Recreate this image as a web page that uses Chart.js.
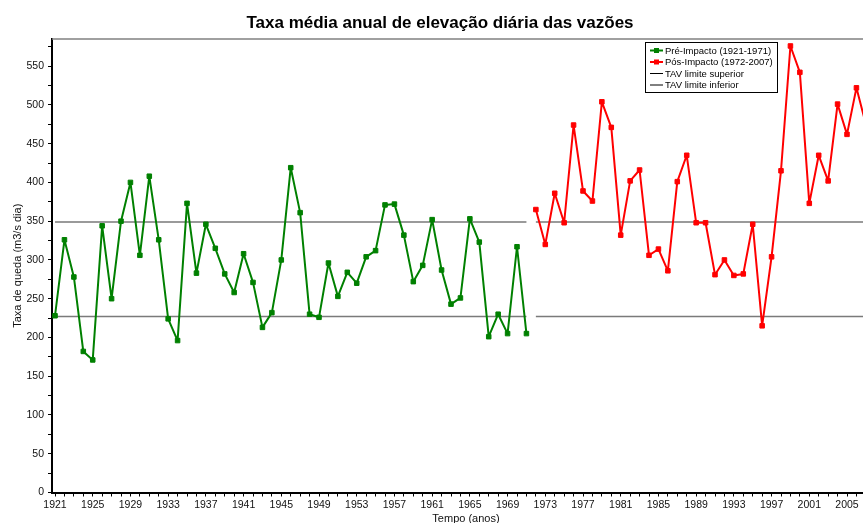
<!DOCTYPE html>
<html>
<head>
<meta charset="utf-8">
<script src="https://cdn.jsdelivr.net/npm/chart.js@4.4.1/dist/chart.umd.min.js"></script>
<style>
  html, body { margin: 0; padding: 0; background: #fff; }
  #wrap { width: 863px; height: 523px; overflow: hidden; position: relative; }
  #myChart { position: absolute; left: 0; top: 0; }
</style>
</head>
<body>
<div id="wrap">
  <canvas id="myChart" width="892" height="526"></canvas>
</div>
<script>
"use strict";

// anos e taxas
var preYears = [1921, 1922, 1923, 1924, 1925, 1926, 1927, 1928, 1929, 1930,
                1931, 1932, 1933, 1934, 1935, 1936, 1937, 1938, 1939, 1940,
                1941, 1942, 1943, 1944, 1945, 1946, 1947, 1948, 1949, 1950,
                1951, 1952, 1953, 1954, 1955, 1956, 1957, 1958, 1959, 1960,
                1961, 1962, 1963, 1964, 1965, 1966, 1967, 1968, 1969, 1970, 1971];
var preValues = [228, 326, 278, 182, 171, 344, 250, 350, 400, 306,
                 408, 326, 224, 196, 373, 283, 346, 315, 282, 258,
                 308, 271, 213, 232, 300, 419, 361, 230, 226, 296,
                 253, 284, 270, 304, 312, 371, 372, 332, 272, 293,
                 352, 287, 243, 251, 353, 323, 201, 230, 205, 317, 205];

var posYears = [1972, 1973, 1974, 1975, 1976, 1977, 1978, 1979, 1980, 1981,
                1982, 1983, 1984, 1985, 1986, 1987, 1988, 1989, 1990, 1991,
                1992, 1993, 1994, 1995, 1996, 1997, 1998, 1999, 2000, 2001,
                2002, 2003, 2004, 2005, 2006, 2007];
var posValues = [365, 320, 386, 348, 474, 389, 376, 504, 471, 332,
                 402, 416, 306, 314, 286, 401, 435, 348, 348, 281,
                 300, 280, 282, 346, 215, 304, 415, 576, 542, 373,
                 435, 402, 501, 462, 522, 475];

// limites TAV (iguais nos dois períodos)
var tavSuperior = 349;
var tavInferior = 227;

// marcas do eixo x
var xTickYears = [1921, 1922, 1923, 1924, 1925, 1926, 1927, 1928, 1929, 1930,
                  1931, 1932, 1933, 1934, 1935, 1936, 1937, 1938, 1939, 1940,
                  1941, 1942, 1943, 1944, 1945, 1946, 1947, 1948, 1949, 1950,
                  1951, 1952, 1953, 1954, 1955, 1956, 1957, 1958, 1959, 1960,
                  1961, 1962, 1963, 1964, 1965, 1966, 1967, 1968, 1969, 1970,
                  1971, 1972, 1973, 1974, 1975, 1976, 1977, 1978, 1979, 1980,
                  1981, 1982, 1983, 1984, 1985, 1986, 1987, 1988, 1989, 1990,
                  1991, 1992, 1993, 1994, 1995, 1996, 1997, 1998, 1999, 2000,
                  2001, 2002, 2003, 2004, 2005, 2006, 2007, 2008];
var xLabelYears = [1921, 1925, 1929, 1933, 1937, 1941, 1945, 1949, 1953, 1957,
                   1961, 1965, 1969, 1973, 1977, 1981, 1985, 1989, 1993, 1997,
                   2001, 2005];
var yTicks = [0, 25, 50, 75, 100, 125, 150, 175, 200, 225, 250, 275, 300,
              325, 350, 375, 400, 425, 450, 475, 500, 525, 550, 575];
var yLabels = [0, 50, 100, 150, 200, 250, 300, 350, 400, 450, 500, 550];

var FONT = "'Liberation Sans', Arial, sans-serif";

function toPoints(xs, ys) {
    return xs.map(function (x, i) { return { x: x, y: ys[i] }; });
}

function tavLine(value) {
    return [
        { x: preYears[0], y: value },
        { x: preYears[preYears.length - 1], y: value },
        { x: preYears[preYears.length - 1] + 0.5, y: null },
        { x: posYears[0], y: value },
        { x: posYears[posYears.length - 1] + 2, y: value }
    ];
}

/* legenda desenhada dentro da área do gráfico */
var boxLegend = {
    id: 'boxLegend',
    afterDraw: function (chart) {
        var c = chart.ctx;
        var x = 645, y = 42, w = 132, h = 50;
        c.save();
        c.fillStyle = '#fff';
        c.fillRect(x, y, w, h);
        c.strokeStyle = '#000';
        c.lineWidth = 1;
        c.strokeRect(x + 0.5, y + 0.5, w, h);
        c.font = '9.5px ' + FONT;
        c.textBaseline = 'middle';
        chart.data.datasets.forEach(function (ds, i) {
            var ry = y + 8.5 + i * 11.5;
            c.strokeStyle = ds.legendColor || ds.borderColor;
            c.lineWidth = ds.pointRadius ? 2 : 1;
            c.beginPath();
            c.moveTo(x + 5, ry);
            c.lineTo(x + 18, ry);
            c.stroke();
            if (ds.pointRadius) {
                c.fillStyle = ds.borderColor;
                c.fillRect(x + 9, ry - 2.5, 5, 5);
            }
            c.fillStyle = '#000';
            c.fillText(ds.label, x + 20, ry + 0.5);
        });
        c.restore();
    }
};

/* linha superior do quadro */
var frameTop = {
    id: 'frameTop',
    beforeDatasetsDraw: function (chart) {
        var a = chart.chartArea, c = chart.ctx;
        c.save();
        c.strokeStyle = '#808080';
        c.lineWidth = 1.5;
        c.beginPath();
        c.moveTo(a.left, a.top);
        c.lineTo(a.right, a.top);
        c.stroke();
        c.restore();
    }
};

var ctx = document.getElementById('myChart').getContext('2d');

var chart = new Chart(ctx, {
    type: 'line',
    data: {
        datasets: [
            {
                label: 'Pré-Impacto (1921-1971)',
                data: toPoints(preYears, preValues),
                borderColor: '#008000',
                backgroundColor: '#008000',
                borderWidth: 2,
                borderJoinStyle: 'round',
                pointStyle: 'rect',
                pointRadius: 3.2,
                pointBorderWidth: 1,
                pointHoverRadius: 3.2,
                tension: 0
            },
            {
                label: 'Pós-Impacto (1972-2007)',
                data: toPoints(posYears, posValues),
                borderColor: '#ff0000',
                backgroundColor: '#ff0000',
                borderWidth: 2,
                borderJoinStyle: 'round',
                pointStyle: 'rect',
                pointRadius: 3.2,
                pointBorderWidth: 1,
                pointHoverRadius: 3.2,
                tension: 0
            },
            {
                label: 'TAV limite superior',
                data: tavLine(tavSuperior),
                borderColor: '#7a7a7a',
                legendColor: '#000',
                borderWidth: 1.6,
                pointRadius: 0,
                spanGaps: false
            },
            {
                label: 'TAV limite inferior',
                data: tavLine(tavInferior),
                borderColor: '#7a7a7a',
                legendColor: '#000',
                borderWidth: 1.6,
                pointRadius: 0,
                spanGaps: false
            }
        ]
    },
    options: {
        responsive: false,
        animation: false,
        layout: { padding: { left: 0, right: 12, top: 0, bottom: 0 } },
        plugins: {
            legend: { display: false },
            tooltip: { enabled: false },
            title: {
                display: true,
                text: 'Taxa média anual de elevação diária das vazões',
                color: '#000',
                font: { family: FONT, size: 17, weight: 'bold' },
                padding: { top: 13, bottom: 5.6 }
            }
        },
        scales: {
            x: {
                type: 'linear',
                min: 1920.68,
                max: 2008.5,
                afterBuildTicks: function (s) {
                    s.ticks = xTickYears.map(function (v) { return { value: v }; });
                },
                afterFit: function (s) { s.height = 526 - 492.5; },
                ticks: {
                    autoSkip: false,
                    maxRotation: 0,
                    padding: 2,
                    color: '#111',
                    font: { family: FONT, size: 10.5 },
                    callback: function (v) {
                        return xLabelYears.indexOf(v) >= 0 ? String(v) : '';
                    }
                },
                grid: { drawOnChartArea: false, drawTicks: true, tickLength: 4, color: '#000' },
                border: { color: '#000', width: 2 },
                title: {
                    display: true,
                    text: 'Tempo (anos)',
                    color: '#111',
                    font: { family: FONT, size: 11 },
                    padding: { top: 0, bottom: 0 }
                }
            },
            y: {
                min: 0,
                max: 585,
                afterBuildTicks: function (s) {
                    s.ticks = yTicks.map(function (v) { return { value: v }; });
                },
                afterFit: function (s) { s.width = 52; },
                ticks: {
                    autoSkip: false,
                    padding: 4,
                    color: '#111',
                    font: { family: FONT, size: 10.5 },
                    callback: function (v) {
                        return yLabels.indexOf(v) >= 0 ? String(v) : '';
                    }
                },
                grid: { drawOnChartArea: false, drawTicks: true, tickLength: 4, color: '#000' },
                border: { color: '#000', width: 2 },
                title: {
                    display: true,
                    text: 'Taxa de queda (m3/s dia)',
                    color: '#111',
                    font: { family: FONT, size: 11 },
                    padding: { top: 11, bottom: 0 }
                }
            }
        }
    },
    plugins: [frameTop, boxLegend]
});
</script>
</body>
</html>
